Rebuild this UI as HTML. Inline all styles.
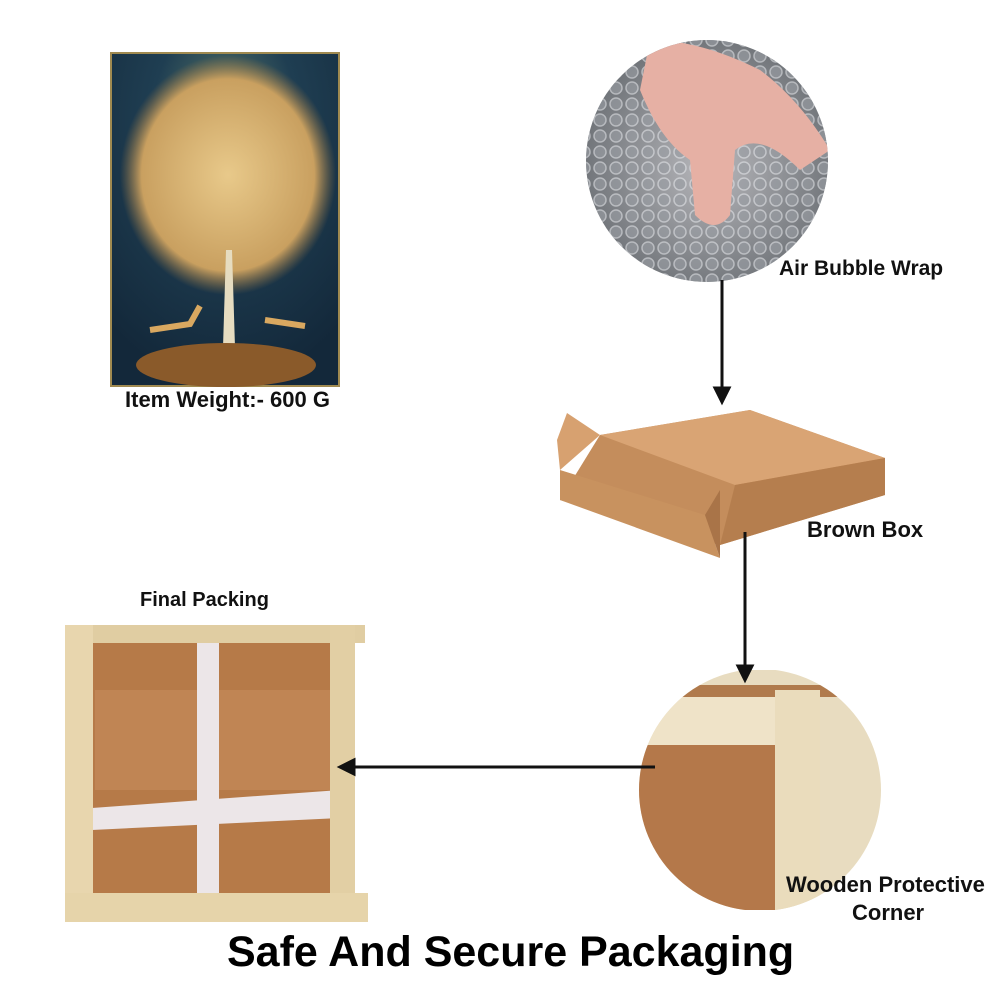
<!DOCTYPE html>
<html><head><meta charset="utf-8"><style>
*{margin:0;padding:0;box-sizing:border-box}
body{width:1000px;height:1000px;background:#fff;position:relative;overflow:hidden;font-family:"Liberation Sans",sans-serif}
.t{position:absolute;font-weight:bold;color:#111;font-size:22px;white-space:nowrap}
</style></head><body>
<svg width="1000" height="1000" style="position:absolute;left:0;top:0">
<defs>
<radialGradient id="pg" cx="50%" cy="20%" r="80%"><stop offset="0" stop-color="#5a7a6a"/><stop offset="0.4" stop-color="#1f3e52"/><stop offset="1" stop-color="#13283a"/></radialGradient>
<radialGradient id="tree" cx="50%" cy="50%" r="50%"><stop offset="0" stop-color="#e8c98a"/><stop offset="0.8" stop-color="#c9a060"/><stop offset="1" stop-color="#a07840" stop-opacity="0"/></radialGradient>
<radialGradient id="bub" cx="50%" cy="50%" r="50%"><stop offset="0" stop-color="#b8b8bc"/><stop offset="1" stop-color="#6f7378"/></radialGradient>
<clipPath id="c1"><circle cx="707" cy="161" r="121"/></clipPath>
<clipPath id="c2"><circle cx="760" cy="790" r="121"/></clipPath>
<pattern id="dots" width="16" height="16" patternUnits="userSpaceOnUse"><circle cx="8" cy="8" r="6" fill="#9a9ea4" stroke="#e0e2e6" stroke-width="1.5"/></pattern>
</defs>
<rect x="111" y="53" width="228" height="333" fill="url(#pg)" stroke="#a08a50" stroke-width="2"/>
<ellipse cx="228" cy="175" rx="108" ry="120" fill="url(#tree)"/>
<path d="M222 380 L226 250 L232 250 L236 380 Z" fill="#e6dcc0"/>
<ellipse cx="226" cy="365" rx="90" ry="22" fill="#8a5a2a"/>
<path d="M150 330 l40 -6 l10 -18 M265 320 l40 6" stroke="#d9a860" stroke-width="6" fill="none"/>
<g clip-path="url(#c1)">
<rect x="580" y="35" width="260" height="260" fill="url(#bub)"/>
<rect x="580" y="35" width="260" height="260" fill="url(#dots)" opacity="0.6"/>
<path d="M650 40 Q700 40 760 70 Q800 100 830 150 L800 170 Q760 130 735 150 L730 215 Q715 235 695 215 L690 160 Q660 140 640 90 Z" fill="#e6b0a4"/>
</g>
<path d="M600 435 L750 410 L885 458 L885 495 L720 545 L560 500 Z" fill="#c48d5c"/>
<path d="M600 435 L750 410 L885 458 L735 485 Z" fill="#d9a474"/>
<path d="M735 485 L885 458 L885 495 L720 545 Z" fill="#b57e4e"/>
<path d="M567 413 L600 435 L560 470 L557 440 Z" fill="#d7a170"/>
<path d="M560 470 L705 515 L720 558 L560 500 Z" fill="#c8925f"/>
<path d="M705 515 L720 558 L720 490 Z" fill="#a97448"/>
<g clip-path="url(#c2)">
<rect x="630" y="670" width="270" height="240" fill="#e8dcc0"/>
<rect x="630" y="745" width="145" height="165" fill="#b4784a"/>
<rect x="630" y="685" width="270" height="12" fill="#b07a4c"/>
<rect x="630" y="697" width="150" height="48" fill="#efe3c8"/>
<rect x="775" y="690" width="45" height="220" fill="#eadcbc"/>
</g>
<rect x="90" y="640" width="250" height="255" fill="#b67a48"/>
<rect x="95" y="690" width="240" height="100" fill="#c08554"/>
<rect x="197" y="643" width="22" height="250" fill="#ece6e8"/>
<path d="M92 808 L340 790 L340 818 L92 830 Z" fill="#ece6e8"/>
<rect x="65" y="625" width="300" height="18" fill="#e0cda2"/>
<rect x="65" y="625" width="28" height="297" fill="#e8d6ae"/>
<rect x="330" y="625" width="25" height="297" fill="#e2cfa4"/>
<rect x="65" y="893" width="303" height="29" fill="#e6d4aa"/>
<g stroke="#111" stroke-width="3" fill="#111">
<line x1="722" y1="280" x2="722" y2="392"/><path d="M715 388 L722 402 L729 388 Z"/>
<line x1="745" y1="532" x2="745" y2="670"/><path d="M738 666 L745 680 L752 666 Z"/>
<line x1="655" y1="767" x2="350" y2="767"/><path d="M354 760 L340 767 L354 774 Z"/>
</g>
</svg>
<div class="t" style="left:125px;top:387px">Item Weight:- 600 G</div>
<div class="t" style="left:779px;top:257px;font-size:21px">Air Bubble Wrap</div>
<div class="t" style="left:807px;top:517px">Brown Box</div>
<div class="t" style="left:140px;top:589px;font-size:20px">Final Packing</div>
<div class="t" style="left:786px;top:872px">Wooden Protective</div>
<div class="t" style="left:852px;top:900px">Corner</div>
<div class="t" style="left:227px;top:928px;font-size:43px;color:#000">Safe And Secure Packaging</div>
</body></html>
